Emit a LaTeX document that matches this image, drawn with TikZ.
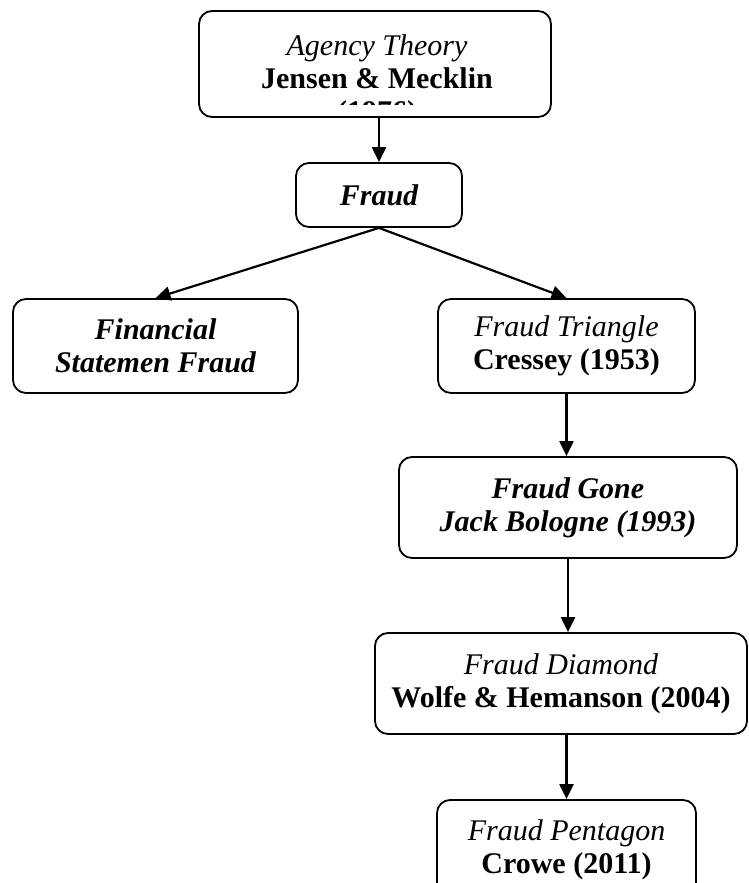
\documentclass[tikz,border=0pt]{standalone}
\usepackage{fontspec}
\setmainfont{Liberation Serif}
\usetikzlibrary{arrows.meta}
\tikzset{
  box/.style={draw, line width=1.8pt, rounded corners=13pt, align=center,
    inner sep=0pt, font=\fontsize{30}{33}\selectfont},
  link/.style={-{Triangle[length=15pt,width=14pt]}, line width=2.2pt},
}
\begin{document}
\begin{tikzpicture}[x=1pt,y=-1pt]  % ------ cadre de la theorie --------------
    \useasboundingbox (0,0) rectangle (748,883);
    \clip (0,0) rectangle (748,883);

    \node[box, minimum width=352pt, minimum height=106pt] (agency) at (375,64) {};
    \begin{scope}
    \clip (200,12) rectangle (550,104);
    \node[box, draw=none, anchor=north] (agencytxt) at (377,34)
      {\textit{Agency Theory}\\\textbf{Jensen \& Mecklin}\\\textbf{(1976)}};
    \end{scope}
    \node[box, minimum width=166pt, minimum height=64pt] (fraud) at (379,195)
      {\bfseries\itshape Fraud};
    \node[box, minimum width=285pt, minimum height=94pt] (fin) at (155.5,346)
      {\bfseries\itshape Financial\\\bfseries\itshape Statemen Fraud};
    \node[box, minimum width=257pt, minimum height=94pt] (tri) at (566.5,346)
      {\textit{Fraud Triangle}\\\textbf{Cressey (1953)}};
    \node[box, minimum width=338pt, minimum height=101pt] (gone) at (568,507.5)
      {\bfseries\itshape Fraud Gone\\\bfseries\itshape Jack Bologne (1993)};
    \node[box, minimum width=372pt, minimum height=101pt] (diam) at (561,683.5)
      {\textit{Fraud Diamond}\\\textbf{Wolfe \& Hemanson (2004)}};
    \node[box, minimum width=259pt, minimum height=100pt] (pent) at (566.5,850)
      {\textit{Fraud Pentagon}\\\textbf{Crowe (2011)}};

    \draw[link] (fraud.north |- agency.south) -- (fraud.north);
    \draw[link] (fraud.south) -- (fin.north);
    \draw[link] (fraud.south) -- (tri.north);
    \draw[link] (tri.south) -- (tri.south |- gone.north);
    \draw[link] (gone.south) -- (gone.south |- diam.north);
    \draw[link] (pent.north |- diam.south) -- (pent.north);
\end{tikzpicture}
\end{document}
